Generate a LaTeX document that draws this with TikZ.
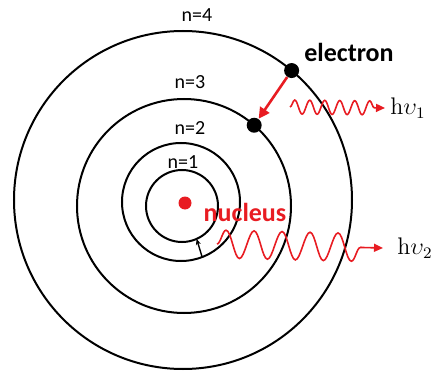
\documentclass[tikz,border=0pt]{standalone}
\usepackage{fontspec}
\newfontfamily\calfont{Carlito}
\usetikzlibrary{positioning,arrows.meta,decorations.pathmorphing}
\definecolor{bohrred}{RGB}{232,28,34}

\begin{document}
\begin{tikzpicture}[x=0.5pt, y=-0.5pt,
  orbit/.style={draw=black, line width=1pt, circle, inner sep=0pt, outer sep=0pt, minimum size=#1},
  electron/.style={circle, fill=black, inner sep=0pt, minimum size=7.5pt},
  nlabel/.style={font=\calfont\fontsize{10}{12}\selectfont, inner sep=0pt},
  blabel/.style={font=\calfont\bfseries\fontsize{13}{15}\selectfont, inner sep=0pt},
  hlabel/.style={font=\fontsize{12}{14}\selectfont, inner sep=0pt, anchor=west},
  jump/.style={draw=bohrred, line width=1.3pt, -{Triangle[length=5.5pt, width=5.5pt]}},
  photon/.style={draw=bohrred, line width=0.8pt, -{Triangle[length=4.5pt, width=4pt]}, decorate}
]
\useasboundingbox (0,0) rectangle (435,375);
% orbits n=1..4 (centres drift a little, as in the sketch)
\foreach \n/\cx/\cy/\d in {1/182/206/36, 2/181/202/59, 3/184/206/107, 4/183/200/169}
  \node[orbit=\d pt] (orb\n) at (\cx,\cy) {};
\foreach \n/\lx/\ly in {1/183/162, 2/190/128, 3/190/82, 4/197/15}
  \node[nlabel] (lab\n) at (\lx,\ly) {n=\n};
% nucleus
\node[circle, fill=bohrred, inner sep=0pt, minimum size=6.5pt] (nuc) at (185,203) {};
\node[blabel, text=bohrred] (nuclab) at (245,212) {nucleus};
% emitted photons
\coordinate (p1s) at (290,107);
\coordinate (p1e) at (385,108);
\coordinate (p2s) at (217,244);
\coordinate (p2e) at (383,248);
\draw[photon, decoration={snake, amplitude=3.5pt, segment length=7.5pt, post length=4pt}] (p1s) -- (p1e);
\draw[photon, decoration={snake, amplitude=7pt, segment length=14pt, post length=7pt}] (p2s) -- (p2e);
\node[hlabel, right=2.5pt of p1e] (hv1) {h$\upsilon_1$};
\node[hlabel, right=7pt of p2e] (hv2) {h$\upsilon_2$};
% electrons and the n=4 -> n=3 jump
\node[electron] (e4) at (orb4.50) {};
\node[electron] (e3) at (orb3.49) {};
\node[blabel] (elab) at (349,52) {electron};
\draw[jump] (e4) -- (e3);
\draw[line width=0.7pt, -{Stealth[length=3pt, width=2.5pt]}] (orb2.-69) -- (orb1.-66);
\end{tikzpicture}
\end{document}
